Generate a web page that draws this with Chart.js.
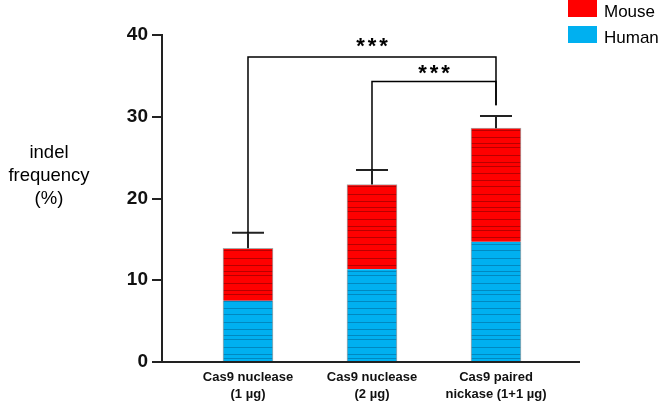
<!DOCTYPE html>
<html>
<head>
<meta charset="utf-8">
<script src="https://cdn.jsdelivr.net/npm/chart.js@4.4.1/dist/chart.umd.min.js"></script>
<style>
  html, body { margin: 0; padding: 0; background: #fff; }
  #wrap { width: 661px; height: 405px; }
</style>
</head>
<body>
<div id="wrap"><canvas id="chart"></canvas></div>
<script>
// data
const categories = [['Cas9 nuclease', '(1 \u00b5g)'], ['Cas9 nuclease', '(2 \u00b5g)'], ['Cas9 paired', 'nickase (1+1 \u00b5g)']];
const human = [7.5, 11.35, 14.7];
const mouse = [6.4, 10.35, 13.9];
const errors = [1.9, 1.8, 1.5];
const yTicks = [0, 10, 20, 30, 40];
// significance brackets: bars compared, bracket height, where each leg stops
const brackets = [
  { a: 0, b: 2, level: 37.3, aEnd: 15.8, bEnd: 31.4, text: '***', lift: 4 },
  { a: 1, b: 2, level: 34.3, aEnd: 23.5, bEnd: 31.4, text: '***', lift: 2 }
];

const RED = '#ff0000';
const BLUE = '#00b0f0';
const FONT = '"Liberation Sans", Arial, Helvetica, sans-serif';

// thin irregular stripes seen inside the bars
function stripes(base, line) {
  const c = document.createElement('canvas');
  c.width = 8; c.height = 64;
  const g = c.getContext('2d');
  g.fillStyle = base;
  g.fillRect(0, 0, 8, 64);
  g.fillStyle = line;
  [2, 9, 15, 19, 27, 34, 38, 45, 52, 58].forEach(y => g.fillRect(0, y, 8, 1));
  return g.createPattern(c, 'repeat');
}

const extras = {
  id: 'extras',
  afterDatasetsDraw(chart) {
    const ctx = chart.ctx;
    const xs = chart.scales.x, ys = chart.scales.y;
    ctx.save();
    // error bars (upper only)
    ctx.strokeStyle = '#222';
    ctx.lineWidth = 2;
    human.forEach((h, i) => {
      const x = xs.getPixelForValue(i + 1);
      const top = ys.getPixelForValue(h + mouse[i]);
      const cap = ys.getPixelForValue(h + mouse[i] + errors[i]);
      ctx.beginPath();
      ctx.moveTo(x, top); ctx.lineTo(x, cap);
      ctx.moveTo(x - 16, cap); ctx.lineTo(x + 16, cap);
      ctx.stroke();
    });
    // brackets
    ctx.strokeStyle = '#000';
    ctx.lineWidth = 1.5;
    ctx.fillStyle = '#000';
    ctx.font = 'bold 22px ' + FONT;
    ctx.letterSpacing = '3px';
    ctx.textAlign = 'center';
    ctx.textBaseline = 'alphabetic';
    brackets.forEach(b => {
      const xa = xs.getPixelForValue(b.a + 1), xb = xs.getPixelForValue(b.b + 1);
      const yl = ys.getPixelForValue(b.level);
      ctx.beginPath();
      ctx.moveTo(xa, ys.getPixelForValue(b.aEnd));
      ctx.lineTo(xa, yl);
      ctx.lineTo(xb, yl);
      ctx.lineTo(xb, ys.getPixelForValue(b.bEnd));
      ctx.stroke();
      ctx.fillText(b.text, (xa + xb) / 2 + 1.5, yl - b.lift);
    });
    ctx.letterSpacing = '0px';
    // y title, written horizontally
    ctx.font = '18.5px ' + FONT;
    ctx.textBaseline = 'middle';
    ['indel', 'frequency', '(%)'].forEach((t, i) => ctx.fillText(t, 49, 153 + i * 23));
    // legend, top-right
    ctx.textAlign = 'left';
    ctx.textBaseline = 'alphabetic';
    ctx.font = '17px ' + FONT;
    [chart.data.datasets[1], chart.data.datasets[0]].forEach((ds, i) => {
      const y = i * 26;
      ctx.fillStyle = ds.legendColor;
      ctx.fillRect(568, y, 29, 17);
      ctx.fillStyle = '#000';
      ctx.fillText(ds.label, 604, y + 16.5);
    });
    ctx.restore();
  }
};

new Chart(document.getElementById('chart'), {
  type: 'bar',
  data: {
    datasets: [
      { label: 'Human', data: human.map((v, i) => ({ x: i + 1, y: v })),
        backgroundColor: stripes(BLUE, '#0088c0'), legendColor: BLUE,
        borderColor: '#a8a8a8', borderWidth: { left: 1, right: 1, top: 0, bottom: 0 }, borderSkipped: false },
      { label: 'Mouse', data: mouse.map((v, i) => ({ x: i + 1, y: v })),
        backgroundColor: stripes(RED, '#b80000'), legendColor: RED,
        borderColor: '#a8a8a8', borderWidth: { left: 1, right: 1, top: 1, bottom: 0 }, borderSkipped: false }
    ]
  },
  options: {
    responsive: true,
    maintainAspectRatio: false,
    animation: false,
    barThickness: 50,
    layout: { padding: { top: 35, right: 82, bottom: 0, left: 0 } },
    plugins: { legend: { display: false }, tooltip: { enabled: false } },
    scales: {
      x: {
        type: 'linear',
        stacked: true,
        offset: false,
        min: 0.3065,
        max: 3.6694,
        afterBuildTicks: s => { s.ticks = categories.map((c, i) => ({ value: i + 1 })); },
        afterFit: s => { s.height = 43; },
        grid: { display: false, drawTicks: false, offset: false },
        border: { display: true, color: '#222', width: 2 },
        ticks: {
          padding: 7,
          color: '#111',
          font: { family: FONT, size: 13, weight: 'bold', lineHeight: 1.28 },
          maxRotation: 0,
          autoSkip: false,
          callback: v => categories[v - 1]
        }
      },
      y: {
        stacked: true,
        min: 0,
        max: 40,
        afterBuildTicks: s => { s.ticks = yTicks.map(v => ({ value: v })); },
        afterFit: s => { s.width = 162; },
        grid: { drawOnChartArea: false, drawTicks: true, tickLength: 10, color: '#222', lineWidth: 2 },
        border: { display: true, color: '#222', width: 2 },
        ticks: {
          padding: 4,
          color: '#111',
          font: { family: FONT, size: 19, weight: 'bold' }
        }
      }
    }
  },
  plugins: [extras]
});
</script>
</body>
</html>
